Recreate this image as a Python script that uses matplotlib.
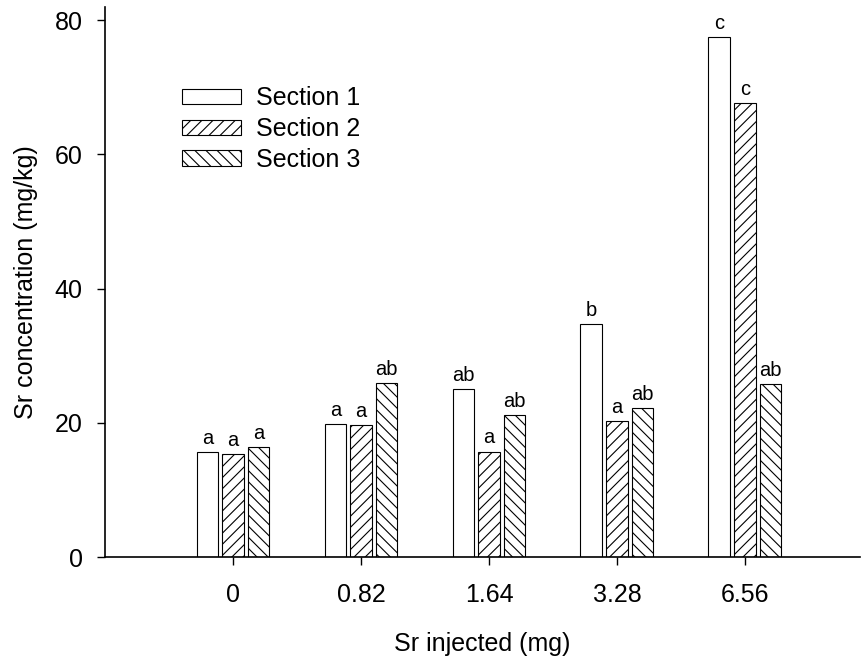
import numpy as np
import matplotlib
matplotlib.use("Agg")
import matplotlib.pyplot as plt

# data
doses = ["0", "0.82", "1.64", "3.28", "6.56"]
section1 = [15.6, 19.8, 25.0, 34.7, 77.5]
section2 = [15.3, 19.6, 15.7, 20.3, 67.6]
section3 = [16.4, 25.9, 21.1, 22.2, 25.8]
letters1 = ["a", "a", "ab", "b", "c"]
letters2 = ["a", "a", "a", "a", "c"]
letters3 = ["a", "ab", "ab", "ab", "ab"]

plt.rcParams["font.family"] = ["Liberation Sans", "DejaVu Sans"]
plt.rcParams["hatch.linewidth"] = 0.8

fig = plt.figure(figsize=(8.61, 6.6), dpi=100)
ax = fig.add_axes([0.122, 0.156, 0.877, 0.834])

x = np.arange(len(doses))
w = 0.17
off = 0.2
series = [(section1, letters1, "", "Section 1"),
          (section2, letters2, "///", "Section 2"),
          (section3, letters3, "\\\\\\", "Section 3")]

for i, (vals, labs, hatch, name) in enumerate(series):
    pos = x + (i - 1) * off
    ax.bar(pos, vals, width=w, color="white", edgecolor="black",
           linewidth=0.8, hatch=hatch, label=name)
    for px, v, t in zip(pos, vals, labs):
        ax.annotate(t, (px, v), xytext=(0, 3), textcoords="offset points",
                    ha="center", va="bottom", fontsize=14.5)

ax.set_xlim(-1, 4.9)
ax.set_ylim(0, 82)
ax.set_xticks(x)
ax.set_xticklabels(doses)
ax.set_yticks([0, 20, 40, 60, 80])
ax.tick_params(axis="both", labelsize=18, length=6, width=1)
ax.tick_params(axis="x", pad=13)
ax.tick_params(axis="y", pad=10)

for s in ["top", "right"]:
    ax.spines[s].set_visible(False)
for s in ["left", "bottom"]:
    ax.spines[s].set_linewidth(1.2)

ax.set_xlabel("Sr injected (mg)", fontsize=18, labelpad=18)
ax.set_ylabel("Sr concentration (mg/kg)", fontsize=18, labelpad=12)

ax.legend(loc="upper left", bbox_to_anchor=(0.102, 0.855), frameon=False,
          fontsize=18, handlelength=2.36, handleheight=0.56,
          handletextpad=0.6, labelspacing=0.27, borderpad=0, borderaxespad=0)

fig.savefig("out.png", dpi=100)
